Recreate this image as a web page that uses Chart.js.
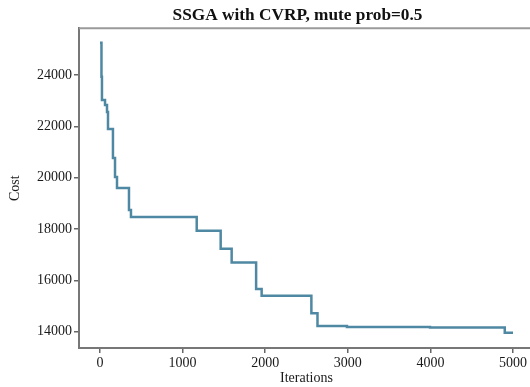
<!DOCTYPE html>
<html>
<head>
<meta charset="utf-8">
<script src="https://cdn.jsdelivr.net/npm/chart.js@4/dist/chart.umd.min.js"></script>
<style>
  html, body { margin: 0; padding: 0; background: #fff; overflow: hidden; }
  #wrap { width: 595px; height: 387px; }
</style>
</head>
<body>
<div id="wrap"><canvas id="c" width="595" height="387"></canvas></div>
<script>
// Iteration at which the best cost changes, and the new best cost from that iteration on
const iterations = [0, 18, 24, 61, 85, 97, 157, 182, 206, 351, 375, 1171, 1461, 1594, 1890, 1957, 2559, 2633, 2990, 3995, 4900, 5000];
const costs = [25260, 23930, 23030, 22830, 22560, 21900, 20770, 20030, 19600, 18740, 18470, 17930, 17230, 16700, 15660, 15400, 14720, 14220, 14185, 14160, 13960, 13960];
const xTicks = [0, 1000, 2000, 3000, 4000, 5000];
const yTicks = [14000, 16000, 18000, 20000, 22000, 24000];
const titleText = 'SSGA with CVRP, mute prob=0.5';
const xLabel = 'Iterations';
const yLabel = 'Cost';

Chart.defaults.font.family = '"Liberation Serif", "DejaVu Serif", serif';
Chart.defaults.color = '#1a1a1a';

const boxPlugin = {
  id: 'boxPlugin',
  afterDraw(chart) {
    const {ctx, chartArea} = chart;
    ctx.save();
    ctx.strokeStyle = '#9a9a9a';
    ctx.lineWidth = 2;
    ctx.beginPath();
    ctx.moveTo(chartArea.left, chartArea.top);
    ctx.lineTo(chartArea.right, chartArea.top);
    ctx.lineTo(chartArea.right, chartArea.bottom);
    ctx.stroke();
    ctx.restore();
  }
};

new Chart(document.getElementById('c'), {
  type: 'line',
  data: {
    datasets: [{
      data: iterations.map((x, i) => ({x: x, y: costs[i]})),
      stepped: 'before',
      borderColor: '#4f88a2',
      borderWidth: 2.5,
      pointRadius: 0,
      fill: false,
      borderCapStyle: 'butt'
    }]
  },
  options: {
    responsive: false,
    animation: false,
    devicePixelRatio: 1,
    layout: { padding: 0 },
    plugins: {
      legend: { display: false },
      tooltip: { enabled: false },
      title: {
        display: true,
        text: titleText,
        font: { size: 17.3, weight: 'bold' },
        color: '#111',
        padding: { top: 5, bottom: 2.6 }
      }
    },
    scales: {
      x: {
        type: 'linear',
        min: -254,
        max: 5254,
        afterBuildTicks(scale) { scale.ticks = xTicks.map(v => ({value: v})); },
        afterFit(scale) { scale.height = 39; },
        grid: { drawOnChartArea: false, drawTicks: true, tickLength: 5, color: '#666', lineWidth: 1.5 },
        border: { display: true, color: '#777', width: 2 },
        ticks: { padding: 2, font: { size: 14 }, color: '#1a1a1a', maxRotation: 0, callback: v => String(v) },
        title: { display: true, text: xLabel, font: { size: 14 }, color: '#1a1a1a', padding: { top: 2, bottom: 0 } }
      },
      y: {
        type: 'linear',
        position: 'left',
        min: 13365,
        max: 25819,
        afterBuildTicks(scale) { scale.ticks = yTicks.map(v => ({value: v})); },
        afterFit(scale) { scale.width = 79; },
        grid: { drawOnChartArea: false, drawTicks: true, tickLength: 5, color: '#666', lineWidth: 1.5 },
        border: { display: true, color: '#777', width: 2 },
        ticks: { padding: 2, font: { size: 14 }, color: '#1a1a1a', callback: v => String(v) },
        title: { display: true, text: yLabel, font: { size: 14 }, color: '#1a1a1a', padding: { top: 7, bottom: 0 } }
      },
      yRight: {
        type: 'linear',
        position: 'right',
        min: 13365,
        max: 25819,
        afterFit(scale) { scale.width = 61; },
        grid: { display: false, drawTicks: false },
        border: { display: false },
        ticks: { display: false }
      }
    }
  },
  plugins: [boxPlugin]
});
</script>
</body>
</html>
